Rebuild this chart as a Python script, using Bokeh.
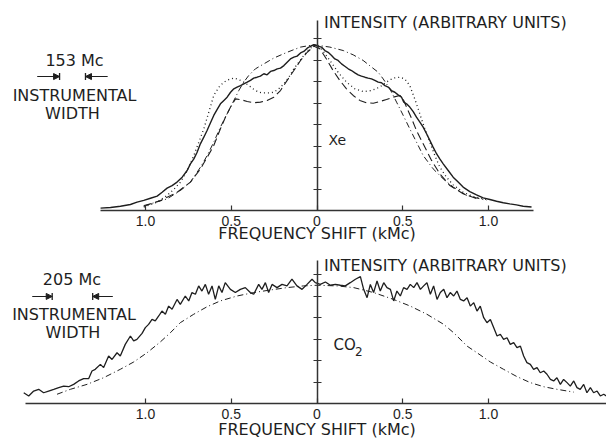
from bokeh.plotting import figure
from bokeh.layouts import column
from bokeh.models import FixedTicker, Label, Arrow, NormalHead, TeeHead, Range1d
from bokeh.embed import file_html
from bokeh.resources import INLINE

# ---------------- data (frequency shift in kMc, intensity in arbitrary units) ----------------
x_ticks = [-1.0, -0.5, 0.0, 0.5, 1.0]
x_tick_labels = ["1.0", "0.5", "0", "0.5", "1.0"]
xe_y_ticks = [1, 2, 3, 4, 5, 6, 7, 8]
co2_y_ticks = [1, 2, 3, 4, 5, 6]
x_axis_title = "FREQUENCY SHIFT (kMc)"
y_axis_title = "INTENSITY (ARBITRARY UNITS)"

# Xe: measured profile (solid)
xe_solid = [
    (-1.262, 0.11), (-1.204, 0.14), (-1.146, 0.20), (-1.088, 0.28), (-1.049, 0.39),
    (-1.010, 0.47), (-0.971, 0.57), (-0.932, 0.67), (-0.903, 0.85), (-0.874, 1.04),
    (-0.845, 1.16), (-0.816, 1.32), (-0.786, 1.55), (-0.757, 1.86), (-0.738, 2.17),
    (-0.718, 2.40), (-0.699, 2.71), (-0.680, 3.10), (-0.660, 3.41), (-0.641, 3.72),
    (-0.621, 4.08), (-0.602, 4.42), (-0.582, 4.70), (-0.563, 4.96), (-0.543, 5.12),
    (-0.524, 5.27), (-0.504, 5.50), (-0.485, 5.66), (-0.466, 5.74), (-0.446, 5.81),
    (-0.427, 5.89), (-0.407, 5.97), (-0.388, 6.05), (-0.369, 6.16), (-0.349, 6.20),
    (-0.330, 6.25), (-0.310, 6.36), (-0.291, 6.31), (-0.271, 6.47), (-0.252, 6.51),
    (-0.232, 6.59), (-0.213, 6.62), (-0.193, 6.74), (-0.174, 6.90), (-0.155, 7.05),
    (-0.135, 7.13), (-0.116, 7.18), (-0.096, 7.33), (-0.077, 7.40), (-0.057, 7.55),
    (-0.038, 7.64), (-0.018, 7.71),
    (0.007, 7.64), (0.026, 7.60), (0.046, 7.44), (0.065, 7.36), (0.085, 7.21),
    (0.104, 7.05), (0.123, 6.98), (0.143, 6.82), (0.162, 6.71), (0.182, 6.59),
    (0.201, 6.51), (0.221, 6.40), (0.240, 6.31), (0.259, 6.25), (0.279, 6.20),
    (0.298, 6.16), (0.318, 6.12), (0.337, 6.05), (0.357, 5.97), (0.376, 5.94),
    (0.396, 5.81), (0.415, 5.74), (0.434, 5.58), (0.454, 5.50), (0.473, 5.38),
    (0.493, 5.27), (0.506, 5.04), (0.522, 4.96), (0.541, 4.81), (0.561, 4.60),
    (0.580, 4.34), (0.600, 4.11), (0.619, 3.88), (0.639, 3.57), (0.658, 3.26),
    (0.677, 2.95), (0.697, 2.64), (0.716, 2.40), (0.736, 2.17), (0.765, 1.86),
    (0.794, 1.55), (0.823, 1.32), (0.852, 1.09), (0.891, 0.88), (0.930, 0.73),
    (0.969, 0.59), (1.008, 0.51), (1.047, 0.43), (1.086, 0.36), (1.124, 0.31),
    (1.163, 0.26), (1.202, 0.20), (1.251, 0.16),
]

# Xe: dotted curve
xe_dotted = [
    (-1.010, 0.16), (-0.932, 0.39), (-0.874, 0.70), (-0.835, 0.98), (-0.796, 1.32),
    (-0.757, 1.86), (-0.718, 2.56), (-0.689, 3.18), (-0.660, 3.80), (-0.631, 4.57),
    (-0.602, 5.35), (-0.572, 5.74), (-0.543, 5.97), (-0.514, 6.09), (-0.485, 6.16),
    (-0.456, 6.09), (-0.427, 5.97), (-0.397, 5.81), (-0.368, 5.63), (-0.339, 5.50),
    (-0.310, 5.47), (-0.281, 5.47), (-0.252, 5.50), (-0.223, 5.66), (-0.193, 5.89),
    (-0.164, 6.20), (-0.135, 6.59), (-0.106, 6.90), (-0.077, 7.21), (-0.048, 7.49),
    (-0.018, 7.67),
    (0.026, 7.52), (0.075, 6.98), (0.123, 6.43), (0.172, 5.97), (0.221, 5.66),
    (0.269, 5.53), (0.318, 5.58), (0.366, 5.74), (0.405, 5.97), (0.444, 6.16),
    (0.483, 6.20), (0.512, 6.12), (0.541, 5.81), (0.570, 5.19), (0.590, 4.73),
    (0.609, 4.26), (0.629, 3.80), (0.658, 3.18), (0.687, 2.56), (0.716, 2.02),
    (0.755, 1.55), (0.794, 1.19), (0.852, 0.85), (0.911, 0.65), (0.988, 0.51),
]

# Xe: dashed curve
xe_dashed = [
    (-1.010, 0.20), (-0.912, 0.47), (-0.815, 0.85), (-0.738, 1.32), (-0.679, 1.94),
    (-0.640, 2.48), (-0.602, 3.02), (-0.563, 3.80), (-0.534, 4.34), (-0.504, 4.81),
    (-0.475, 5.19), (-0.446, 5.16), (-0.407, 5.07), (-0.368, 5.01), (-0.330, 5.04),
    (-0.291, 5.12), (-0.252, 5.27), (-0.213, 5.58), (-0.174, 6.05), (-0.135, 6.51),
    (-0.096, 6.98), (-0.057, 7.36), (-0.018, 7.64),
    (0.017, 7.52), (0.055, 7.05), (0.094, 6.51), (0.133, 6.05), (0.172, 5.66),
    (0.211, 5.35), (0.250, 5.12), (0.289, 5.01), (0.328, 4.99), (0.367, 5.07),
    (0.405, 5.16), (0.444, 5.27), (0.483, 5.35), (0.502, 5.19), (0.522, 4.81),
    (0.551, 4.29), (0.580, 3.72), (0.619, 3.10), (0.668, 2.33), (0.716, 1.71),
    (0.775, 1.16), (0.852, 0.78), (0.950, 0.50),
]

# Xe: dash-dot curve
xe_dashdot = [
    (-1.010, 0.23), (-0.971, 0.31), (-0.874, 0.54), (-0.796, 0.93), (-0.738, 1.32),
    (-0.679, 2.02), (-0.640, 2.56), (-0.602, 3.18), (-0.563, 3.88), (-0.534, 4.34),
    (-0.504, 4.81), (-0.475, 5.27), (-0.456, 5.58), (-0.427, 5.97), (-0.398, 6.28),
    (-0.359, 6.59), (-0.310, 6.82), (-0.252, 7.09), (-0.174, 7.36), (-0.096, 7.60),
    (-0.018, 7.71),
    (0.075, 7.60), (0.153, 7.44), (0.211, 7.24), (0.269, 6.98), (0.318, 6.67),
    (0.357, 6.43), (0.386, 6.12), (0.425, 5.66), (0.464, 5.04), (0.503, 4.42),
    (0.541, 3.80), (0.580, 3.18), (0.619, 2.56), (0.677, 1.94), (0.736, 1.47),
    (0.794, 1.09), (0.872, 0.70), (0.988, 0.47),
]

# CO2: measured profile (solid, noisy)
co2_solid = [
    (-1.710, 0.50), (-1.681, 0.35), (-1.652, 0.58), (-1.623, 0.66), (-1.594, 0.50),
    (-1.565, 0.58), (-1.535, 0.66), (-1.506, 0.74), (-1.477, 0.81), (-1.448, 0.78),
    (-1.419, 0.89), (-1.390, 1.05), (-1.361, 1.16), (-1.331, 1.16), (-1.312, 1.51),
    (-1.293, 1.59), (-1.263, 1.82), (-1.244, 1.67), (-1.215, 2.21), (-1.195, 2.05),
    (-1.166, 2.36), (-1.147, 2.21), (-1.118, 2.75), (-1.088, 3.14), (-1.069, 2.91),
    (-1.050, 2.98), (-1.020, 3.26), (-1.001, 3.53), (-0.982, 3.68), (-0.962, 3.91),
    (-0.943, 3.84), (-0.923, 4.07), (-0.904, 4.30), (-0.884, 4.15), (-0.865, 4.53),
    (-0.845, 4.38), (-0.816, 4.84), (-0.797, 4.61), (-0.768, 5.00), (-0.748, 4.77),
    (-0.729, 5.16), (-0.709, 5.08), (-0.690, 5.47), (-0.671, 5.23), (-0.651, 5.54),
    (-0.632, 5.08), (-0.612, 5.47), (-0.593, 4.84), (-0.573, 5.47), (-0.554, 5.16),
    (-0.535, 5.62), (-0.505, 5.31), (-0.476, 5.16), (-0.447, 5.31), (-0.418, 5.39),
    (-0.389, 5.16), (-0.369, 5.08), (-0.340, 5.54), (-0.321, 5.31), (-0.301, 5.62),
    (-0.282, 5.16), (-0.262, 5.54), (-0.233, 5.39), (-0.204, 5.54), (-0.175, 5.47),
    (-0.146, 5.78), (-0.117, 5.47), (-0.087, 5.31), (-0.058, 5.54), (-0.029, 5.78),
    (-0.010, 5.62),
    (0.019, 5.54), (0.049, 5.65), (0.078, 5.50), (0.107, 5.54), (0.136, 5.50),
    (0.165, 5.47), (0.194, 5.62), (0.224, 5.78), (0.253, 5.90), (0.272, 5.31),
    (0.292, 4.92), (0.311, 5.54), (0.330, 5.16), (0.350, 5.70), (0.369, 5.23),
    (0.389, 5.62), (0.408, 5.39), (0.428, 5.31), (0.447, 4.77), (0.466, 5.23),
    (0.486, 5.00), (0.505, 5.39), (0.525, 5.31), (0.544, 5.54), (0.564, 5.39),
    (0.583, 5.62), (0.603, 5.31), (0.622, 5.47), (0.641, 5.62), (0.661, 5.08),
    (0.680, 5.47), (0.700, 4.84), (0.719, 5.16), (0.739, 5.31), (0.758, 4.92),
    (0.777, 5.16), (0.797, 5.00), (0.816, 5.23), (0.836, 4.84), (0.855, 4.77),
    (0.875, 4.92), (0.894, 4.53), (0.914, 4.69), (0.933, 4.30), (0.952, 4.53),
    (0.972, 3.99), (0.991, 3.76), (1.011, 3.91), (1.030, 3.53), (1.050, 3.14),
    (1.069, 3.22), (1.088, 2.98), (1.108, 3.06), (1.127, 2.75), (1.147, 2.83),
    (1.166, 2.60), (1.186, 2.67), (1.205, 2.21), (1.224, 1.90), (1.244, 1.82),
    (1.263, 1.59), (1.283, 1.67), (1.302, 1.43), (1.322, 1.51), (1.341, 1.36),
    (1.361, 1.12), (1.380, 1.05), (1.399, 1.20), (1.419, 0.89), (1.438, 1.12),
    (1.458, 0.97), (1.477, 0.81), (1.497, 1.05), (1.516, 0.74), (1.535, 0.66),
    (1.555, 0.89), (1.574, 0.50), (1.594, 0.74), (1.613, 0.50), (1.633, 0.58),
    (1.652, 0.35), (1.672, 0.43), (1.687, 0.35),
]

# CO2: dash-dot curve
co2_dashdot = [
    (-1.516, 0.43), (-1.438, 0.66), (-1.341, 0.89), (-1.244, 1.20), (-1.147, 1.59),
    (-1.069, 1.93), (-0.991, 2.36), (-0.914, 2.86), (-0.855, 3.29), (-0.797, 3.76),
    (-0.719, 4.15), (-0.641, 4.50), (-0.564, 4.77), (-0.466, 5.00), (-0.369, 5.16),
    (-0.272, 5.28), (-0.175, 5.39), (-0.078, 5.47), (0.000, 5.50), (0.117, 5.47),
    (0.214, 5.39), (0.330, 5.16), (0.447, 4.84), (0.544, 4.53), (0.641, 4.15),
    (0.739, 3.68), (0.797, 3.29), (0.875, 2.67), (0.933, 2.36), (1.011, 1.93),
    (1.088, 1.59), (1.166, 1.25), (1.244, 0.97), (1.322, 0.78), (1.399, 0.66),
    (1.497, 0.53),
]

# instrumental width labels
xe_width_label = "153 Mc"
co2_width_label = "205 Mc"

# ---------------- layout constants ----------------
W = 606
CX = 316.5        # canvas px of zero frequency shift
SX = 171.5        # px per kMc
SY = 21.5         # px per intensity unit
INK = "#1e1e1e"
FONT = "DejaVu Sans"
TICKFONT = "Liberation Sans"


def xs(pts):
    return [a for a, b in pts]


def ys(pts):
    return [b for a, b in pts]


def make_fig(above_px, below_px, y_top, y_ticks, x_lo, x_hi, title_y, label_y):
    # the frame is the whole figure; both axes are pinned at zero
    p = figure(frame_width=W, frame_height=above_px + below_px,
               x_range=Range1d(-CX / SX, (W - CX) / SX),
               y_range=Range1d(-below_px / SY, above_px / SY),
               output_backend="svg", toolbar_location=None,
               min_border=0, min_border_left=0, min_border_right=0,
               min_border_top=0, min_border_bottom=0)
    p.outline_line_color = None
    p.grid.visible = False
    p.background_fill_color = "white"
    p.border_fill_color = "white"

    xa = p.xaxis[0]
    xa.fixed_location = 0
    xa.ticker = FixedTicker(ticks=x_ticks)
    xa.major_label_overrides = {t: l for t, l in zip(x_ticks, x_tick_labels)}
    xa.bounds = (x_lo, x_hi)
    xa.major_tick_in = 5
    xa.major_tick_out = 0
    xa.minor_tick_line_color = None
    xa.axis_line_width = 1.6
    xa.axis_line_color = "#333333"
    xa.major_tick_line_color = "#333333"
    xa.major_tick_line_width = 1.2
    xa.major_label_text_font = TICKFONT
    xa.major_label_text_font_size = "14px"
    xa.major_label_text_color = INK
    xa.major_label_standoff = 5

    ya = p.yaxis[0]
    ya.fixed_location = 0
    ya.bounds = (0, y_top)
    ya.ticker = FixedTicker(ticks=y_ticks)
    ya.major_tick_in = 4
    ya.major_tick_out = 4
    ya.minor_tick_line_color = None
    ya.axis_line_width = 1.5
    ya.axis_line_color = "#333333"
    ya.major_tick_line_color = "#333333"
    ya.major_tick_line_width = 1.2
    ya.major_label_text_font_size = "0px"
    ya.major_label_text_alpha = 0

    p.add_layout(Label(x=0, y=title_y, x_offset=7, text=y_axis_title,
                       text_font=FONT, text_font_size="16px", text_color=INK,
                       text_baseline="middle", text_align="left"))
    p.add_layout(Label(x=0, y=label_y, text=x_axis_title,
                       text_font=FONT, text_font_size="16px", text_color=INK,
                       text_baseline="middle", text_align="center"))
    return p


def add_text(p, x, y, text, size="16px", align="center"):
    p.add_layout(Label(x=x, y=y, text=text, text_font=FONT, text_font_size=size,
                       text_color=INK, text_baseline="middle", text_align=align))


def add_width_marker(p, y, tail_l, bar_l, bar_r, tail_r):
    for t, b in ((tail_l, bar_l), (tail_r, bar_r)):
        p.add_layout(Arrow(x_start=t, y_start=y, x_end=b, y_end=y,
                           end=NormalHead(size=6, line_color=INK, fill_color=INK, line_width=1),
                           line_color=INK, line_width=1.1))
        p.add_layout(Arrow(x_start=t, y_start=y, x_end=b, y_end=y,
                           end=TeeHead(size=7, line_color=INK, line_width=1.3),
                           line_color=INK, line_width=1.1))


# ---------------- top panel: Xe (baseline 210 px from top, 38 px below) ----------------
p1 = make_fig(above_px=210, below_px=38, y_top=8.84, y_ticks=xe_y_ticks,
              x_lo=-1.262, x_hi=1.262, title_y=8.74, label_y=-1.07)
p1.line(xs(xe_dashdot), ys(xe_dashdot), line_color=INK, line_width=1.0, line_dash="6 3 1 3")
p1.line(xs(xe_dashed), ys(xe_dashed), line_color=INK, line_width=1.1, line_dash="8 4")
p1.line(xs(xe_dotted), ys(xe_dotted), line_color=INK, line_width=1.3, line_dash="1 3")
p1.line(xs(xe_solid), ys(xe_solid), line_color=INK, line_width=1.4)

add_text(p1, -1.414, 6.98, xe_width_label)
add_width_marker(p1, 6.23, -1.63, -1.501, -1.35, -1.222)
add_text(p1, -1.414, 5.35, "INSTRUMENTAL")
add_text(p1, -1.426, 4.53, "WIDTH")
add_text(p1, 0.067, 3.30, "Xe", size="14px", align="left")

# ---------------- bottom panel: CO2 (baseline 155 px below its top, 36 px below) ----------------
p2 = make_fig(above_px=155, below_px=36, y_top=6.65, y_ticks=co2_y_ticks,
              x_lo=-1.70, x_hi=(W - CX) / SX, title_y=6.42, label_y=-1.21)
p2.line(xs(co2_dashdot), ys(co2_dashdot), line_color=INK, line_width=1.0, line_dash="6 3 1 3")
p2.line(xs(co2_solid), ys(co2_solid), line_color=INK, line_width=1.3)

add_text(p2, -1.429, 5.77, co2_width_label)
add_width_marker(p2, 4.98, -1.659, -1.544, -1.308, -1.192)
add_text(p2, -1.417, 4.14, "INSTRUMENTAL")
add_text(p2, -1.423, 3.30, "WIDTH")
add_text(p2, 0.096, 2.74, "CO", size="15px", align="left")
add_text(p2, 0.222, 2.42, "2", size="12px", align="left")

layout = column(p1, p2, spacing=0)
open("out.html", "w").write(file_html(layout, INLINE))
